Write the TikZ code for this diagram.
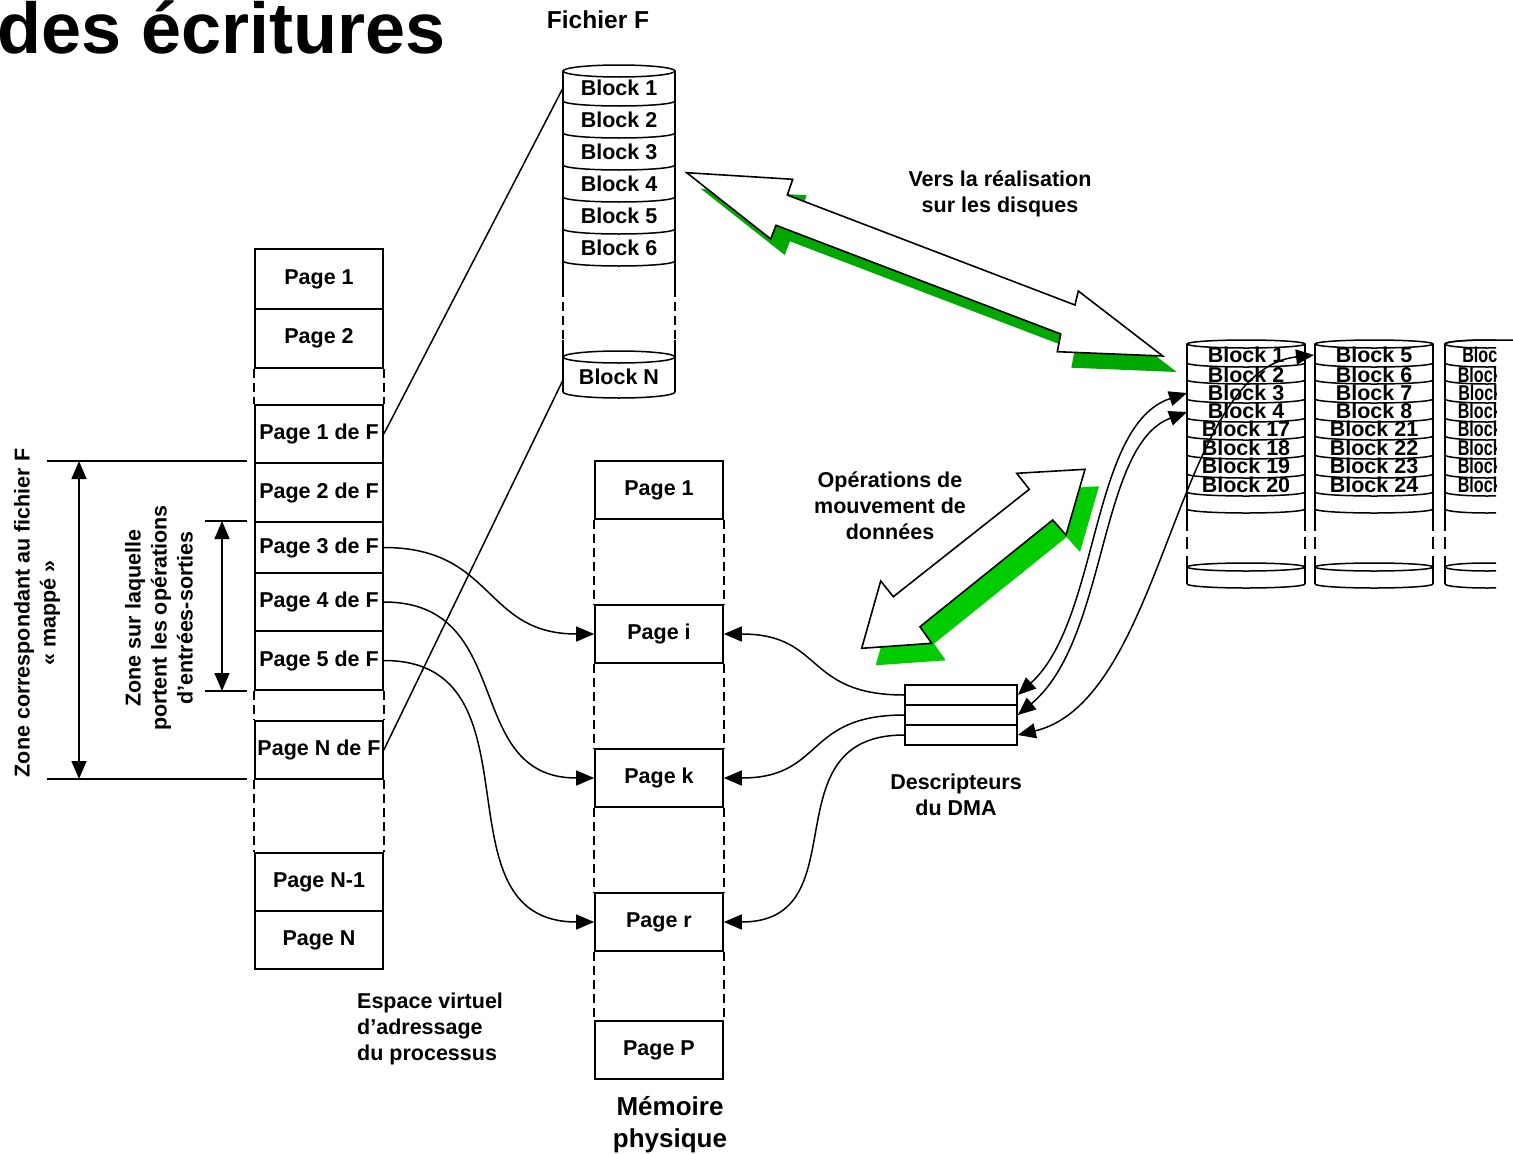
\documentclass[tikz,border=0pt]{standalone}
\usepackage{fontspec}
\setmainfont{Liberation Sans}
\usetikzlibrary{arrows.meta}
\definecolor{shadowA}{RGB}{0,168,0}
\definecolor{shadowB}{RGB}{0,204,0}
\newcommand\txtfont{\fontsize{21.5}{26}\selectfont\bfseries}
\newcommand\diskbody[2]{%
  \draw[cyl] (#1,344) ellipse[x radius=#2pt,y radius=4pt];
  \foreach \yy in {363,380,399,418,436,455,474,492,509}
    \draw[cyl] ({#1-#2},\yy) arc[start angle=180,end angle=360,x radius=#2pt,y radius=4pt];
  \foreach \s in {-#2,#2} {
    \draw[cyl] ({#1+\s},344) -- ({#1+\s},531);
    \draw[cyl] ({#1+\s},537) -- ({#1+\s},549);
    \draw[cyl] ({#1+\s},556) -- ({#1+\s},584);
  }
  \draw[cyl] (#1,567) ellipse[x radius=#2pt,y radius=4pt];
  \draw[cyl] ({#1-#2},584) arc[start angle=180,end angle=360,x radius=#2pt,y radius=4pt];
}
\begin{document}
\begin{tikzpicture}[x=1pt,y=-1pt,
  >={Triangle[length=18pt,width=15pt]},
  txt/.style={font=\txtfont, inner sep=0pt, align=center},
  pbox/.style={draw, line width=1.6pt, minimum width=128pt, inner sep=0pt, font=\txtfont},
  dsh/.style={line width=1.8pt, dash pattern=on 9pt off 5pt},
  cyl/.style={line width=1.5pt},
  conn/.style={line width=1.5pt},
  hollow/.style={draw=black, fill=white, line width=1.6pt, line join=miter},
]
\useasboundingbox (0,0) rectangle (1513,1154);

% title
\node[font=\fontsize{72}{80}\selectfont\bfseries, anchor=base west, inner sep=0pt] (title) at (-3,53) {des écritures};

% ---------- virtual address space ----------
\node[pbox,minimum height=60pt] (v1) at (319,279) {Page 1};
\node[pbox,minimum height=59pt] (v2) at (319,338.5) {Page 2};
\node[pbox,minimum height=58pt] (f1) at (319,434) {Page 1 de F};
\node[pbox,minimum height=59pt] (f2) at (319,492.5) {Page 2 de F};
\node[pbox,minimum height=51pt] (f3) at (319,547.5) {Page 3 de F};
\node[pbox,minimum height=58pt] (f4) at (319,602) {Page 4 de F};
\node[pbox,minimum height=59pt] (f5) at (319,660.5) {Page 5 de F};
\node[pbox,minimum height=58pt] (fN) at (319,750) {Page N de F};
\node[pbox,minimum height=58pt] (vN1) at (319,882) {Page N-1};
\node[pbox,minimum height=58pt] (vN) at (319,940) {Page N};
\foreach \a/\b in {v2/f1,f5/fN,fN/vN1} {
  \draw[dsh] (\a.south west) -- (\b.north west);
  \draw[dsh] (\a.south east) -- (\b.north east);
}

% ---------- physical memory ----------
\node[pbox,minimum height=58pt] (m1) at (659,490) {Page 1};
\node[pbox,minimum height=58pt] (mi) at (659,634) {Page i};
\node[pbox,minimum height=58pt] (mk) at (659,778) {Page k};
\node[pbox,minimum height=58pt] (mr) at (659,922) {Page r};
\node[pbox,minimum height=58pt] (mP) at (659,1050) {Page P};
\foreach \a/\b in {m1/mi,mi/mk,mk/mr,mr/mP} {
  \draw[dsh] (\a.south west) -- (\b.north west);
  \draw[dsh] (\a.south east) -- (\b.north east);
}

% ---------- DMA descriptors ----------
\node[draw,line width=1.6pt,minimum width=112pt,minimum height=20pt,inner sep=0pt] (d1) at (961,695) {};
\node[draw,line width=1.6pt,minimum width=112pt,minimum height=20pt,inner sep=0pt] (d2) at (961,715) {};
\node[draw,line width=1.6pt,minimum width=112pt,minimum height=20pt,inner sep=0pt] (d3) at (961,735) {};

% ---------- file F cylinder ----------
\draw[cyl] (619,71) ellipse[x radius=56pt,y radius=6pt];
\foreach \yy in {101,133,165,197,229,261}
  \draw[cyl] (563,\yy) arc[start angle=180,end angle=360,x radius=56pt,y radius=5pt];
\foreach \xx in {563,675} {
  \draw[cyl] (\xx,71) -- (\xx,288);
  \draw[dsh] (\xx,288) -- (\xx,340);
  \draw[cyl] (\xx,340) -- (\xx,392);
}
\draw[cyl] (619,357) ellipse[x radius=56pt,y radius=6pt];
\draw[cyl] (563,392) arc[start angle=180,end angle=360,x radius=56pt,y radius=6pt];
\foreach \i in {1,...,6}
  \node[txt] (fb\i) at (619,{88+32*(\i-1)}) {Block \i};
\node[txt] (fbN) at (619,377) {Block N};
\coordinate (fB1) at (563,88);
\coordinate (fBN) at (563,380);

% ---------- disk cylinders ----------
\diskbody{1246}{59}
\foreach \t/\yy in {Block 1/355,Block 2/375,Block 3/393,Block 4/411,Block 17/429,Block 18/448,Block 19/466,Block 20/485}
  \node[txt] at (1246,\yy) {\t};
\diskbody{1374}{59}
\foreach \t/\yy in {Block 5/355,Block 6/375,Block 7/393,Block 8/411,Block 21/429,Block 22/448,Block 23/466,Block 24/485}
  \node[txt] at (1374,\yy) {\t};
\begin{scope}
  \clip (1438,336) rectangle (1496,600);
  \diskbody{1487}{42}
  \foreach \t/\yy in {Block 9/355,Block 10/375,Block 11/393,Block 12/411,Block 25/429,Block 26/448,Block 27/466,Block 28/485}
    \node[txt,xscale=0.75] at (1491,\yy) {\t};
\end{scope}
\draw[cyl] (1445,344) arc[start angle=180,end angle=90,x radius=42pt,y radius=4pt] -- (1513,340);
\coordinate (dB3) at (1187,393);
\coordinate (dB4) at (1187,412);
\coordinate (dB5) at (1314,355);

% ---------- hollow arrows with shadows ----------
\fill[shadowA, shift={(14,16)}] (686.7,172.7) -- (792.7,179.3) -- (787.3,195) -- (1075,305) -- (1078.3,291) -- (1162.7,356) -- (1057.3,351.7) -- (1060.7,334) -- (776,225.3) -- (770.7,239) -- cycle;
\path[hollow] (686.7,172.7) -- (792.7,179.3) -- (787.3,195) -- (1075,305) -- (1078.3,291) -- (1162.7,356) -- (1057.3,351.7) -- (1060.7,334) -- (776,225.3) -- (770.7,239) -- cycle;

\fill[shadowB, shift={(14,17)}] (1085,469.3) -- (1016.7,473.3) -- (1029.3,489.3) -- (893.3,596.7) -- (880.7,581) -- (861.7,648.3) -- (931.7,643.3) -- (920,626.7) -- (1052.7,520) -- (1066,535) -- cycle;
\path[hollow] (1085,469.3) -- (1016.7,473.3) -- (1029.3,489.3) -- (893.3,596.7) -- (880.7,581) -- (861.7,648.3) -- (931.7,643.3) -- (920,626.7) -- (1052.7,520) -- (1066,535) -- cycle;

% ---------- labels ----------
\node[txt,font=\fontsize{24.5}{28}\selectfont\bfseries] (lblF) at (598,20) {Fichier F};
\node[txt] (lblV) at (1000,194) {Vers la réalisation\\sur les disques};
\node[txt] (lblO) at (890,506) {Opérations de\\mouvement de\\données};
\node[txt] (lblD) at (956,795) {Descripteurs\\du DMA};
\node[txt,align=left,anchor=west] (lblE) at (357,1029) {Espace virtuel\\d’adressage\\du processus};
\node[txt,font=\fontsize{26}{32}\selectfont\bfseries] (lblM) at (670,1125) {Mémoire\\physique};
\node[txt,rotate=90] (lblZ1) at (37,613) {Zone correspondant au fichier F\\« mappé »};
\node[txt,rotate=90] (lblZ2) at (159,618) {Zone sur laquelle\\portent les opérations\\d’entrées-sorties};

% ---------- dimension arrows ----------
\coordinate (zt1) at (47,461); \coordinate (zt2) at (247,461);
\coordinate (zb1) at (47,779); \coordinate (zb2) at (247,779);
\draw[conn] (zt1) -- (zt2);
\draw[conn] (zb1) -- (zb2);
\draw[conn,<->] (79,461) -- (79,779);
\coordinate (st1) at (205,521); \coordinate (st2) at (247,521);
\coordinate (sb1) at (205,691); \coordinate (sb2) at (247,691);
\draw[conn] (st1) -- (st2);
\draw[conn] (sb1) -- (sb2);
\draw[conn,<->] (222,521) -- (222,691);

% ---------- connectors ----------
\draw[conn] (f1.east) -- (fB1);
\draw[conn] (fN.east) -- (fBN);
\draw[conn,->] (f3.east) to[out=0,in=180,looseness=1.25] (mi.west);
\draw[conn,->] (f4.east) to[out=0,in=180,looseness=1.25] (mk.west);
\draw[conn,->] (f5.east) to[out=0,in=180,looseness=1.25] (mr.west);
\draw[conn,->] (d1.west) to[out=180,in=0,looseness=1.35] (mi.east);
\draw[conn,->] (d2.west) to[out=180,in=0,looseness=1.35] (mk.east);
\draw[conn,->] (d3.west) to[out=180,in=0,looseness=1.35] (mr.east);
\draw[conn,<->] (d1.east) .. controls (1100,620) and (1090,425) .. (dB3);
\draw[conn,<->] (d2.east) .. controls (1108,640) and (1098,445) .. (dB4);
\draw[conn,<->] (d3.east) .. controls (1165,700) and (1175,370) .. (dB5);
\end{tikzpicture}
\end{document}
